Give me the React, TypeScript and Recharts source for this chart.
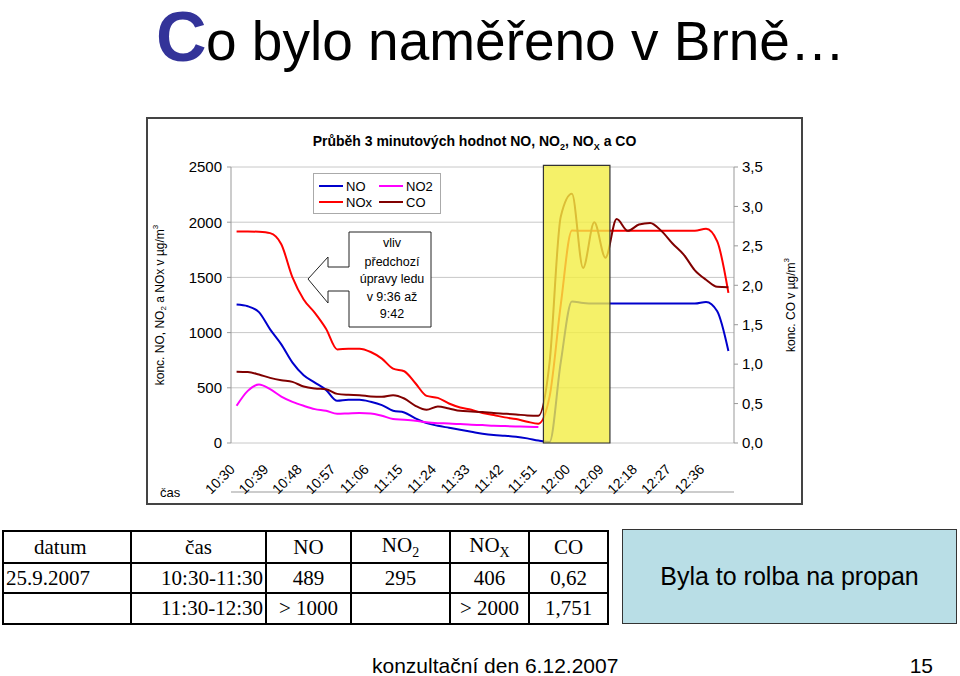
import React from 'react';
import { LineChart, Line, XAxis, YAxis, CartesianGrid, ReferenceArea, Legend, Label } from 'recharts';

const SANS = '"Liberation Sans", Arial, sans-serif';
const SERIF = '"Liberation Serif", "Times New Roman", serif';

const categories = [
  '10:30', '10:33', '10:36', '10:39', '10:42', '10:45', '10:48', '10:51', '10:54', '10:57',
  '11:00', '11:03', '11:06', '11:09', '11:12', '11:15', '11:18', '11:21', '11:24', '11:27',
  '11:30', '11:33', '11:36', '11:39', '11:42', '11:45', '11:48', '11:51', '11:54', '11:57',
  '12:00', '12:03', '12:06', '12:09', '12:12', '12:15', '12:18', '12:21', '12:24', '12:27',
  '12:30', '12:33', '12:36', '12:39', '12:42',
];

const tickLabels = [
  '10:30', '10:39', '10:48', '10:57', '11:06', '11:15', '11:24', '11:33',
  '11:42', '11:51', '12:00', '12:09', '12:18', '12:27', '12:36',
];

const noValues = [
  1254, 1239, 1185, 1029, 893, 728, 614, 547, 481, 382,
  391, 391, 373, 343, 292, 277, 223, 180, 156, 138,
  120, 102, 84, 72, 66, 57, 42, 22, 8, 730,
  1282, 1268, 1263, 1263, 1263, 1263, 1263, 1263, 1263, 1263,
  1263, 1263, 1278, 1194, 833,
];

const no2Values: (number | null)[] = [
  337, 472, 529, 487, 421, 373, 337, 307, 292, 265,
  268, 271, 268, 247, 217, 211, 202, 187, 180, 177,
  171, 165, 162, 156, 153, 150, 147, 144, null, null,
  null, null, null, null, null, null, null, null, null, null,
  null, null, null, null, null,
];

const noxValues = [
  1916, 1916, 1913, 1901, 1800, 1500, 1300, 1179, 1035, 848,
  854, 854, 824, 764, 674, 650, 541, 427, 409, 358,
  322, 301, 271, 253, 232, 217, 193, 175, 420, 1251,
  1925, 1922, 1922, 1922, 1922, 1922, 1922, 1922, 1922, 1922,
  1922, 1922, 1940, 1826, 1360,
];

const coValues = [
  0.905, 0.901, 0.868, 0.826, 0.796, 0.775, 0.716, 0.691, 0.682, 0.623,
  0.611, 0.606, 0.59, 0.585, 0.606, 0.564, 0.472, 0.421, 0.463, 0.438,
  0.408, 0.4, 0.392, 0.379, 0.371, 0.362, 0.35, 0.345, 1.02, 2.87,
  3.16, 2.22, 2.8, 2.35, 2.84, 2.69, 2.77, 2.79, 2.69, 2.53,
  2.39, 2.19, 2.07, 1.98, 1.975,
];

const leftTicks = [0, 500, 1000, 1500, 2000, 2500];
const rightTicks = [0, 0.5, 1, 1.5, 2, 2.5, 3, 3.5];

const series = [
  { key: 'NO', name: 'NO', color: '#0000CC', axis: 'left' },
  { key: 'NO2', name: 'NO2', color: '#FF00FF', axis: 'left' },
  { key: 'NOx', name: 'NOx', color: '#FF0000', axis: 'left' },
  { key: 'CO', name: 'CO', color: '#800000', axis: 'co' },
];

const highlightFrom = 27.45;
const highlightTo = 33.4;

const TimeTick = (props: any) => {
  const { x, y, payload } = props;
  return (
    <g transform={`translate(${x - 8},${y + 20})`}>
      <text textAnchor="end" transform="rotate(-45)" dy="0.72em" fontSize={14} fontFamily={SANS} fill="#000">
        {categories[payload.value]}
      </text>
    </g>
  );
};

const LeftTitle = (props: any) => {
  const vb = props.viewBox || { x: 33, y: 48, width: 50, height: 276 };
  const cx = vb.x - 21;
  const cy = vb.y + vb.height / 2;
  return (
    <text transform={`translate(${cx},${cy}) rotate(-90)`} textAnchor="middle" dominantBaseline="central" fontSize={12} fontFamily={SANS} fill="#000">
      konc. NO, NO<tspan fontSize={8} dy={3}>2</tspan><tspan dy={-3}> a NOx v µg/m</tspan><tspan fontSize={8} dy={-5}>3</tspan>
    </text>
  );
};

const RightTitle = (props: any) => {
  const vb = props.viewBox || { x: 586, y: 48, width: 50, height: 276 };
  const cx = vb.x + 57;
  const cy = vb.y + vb.height / 2;
  return (
    <text transform={`translate(${cx},${cy}) rotate(-90)`} textAnchor="middle" dominantBaseline="central" fontSize={12} fontFamily={SANS} fill="#000">
      konc. CO v µg/m<tspan fontSize={8} dy={-5}>3</tspan>
    </text>
  );
};

const LegendBox = () => (
  <div style={{ boxSizing: 'border-box', width: 128, height: 41, border: '1px solid #aaa', background: '#fff', display: 'grid', gridTemplateColumns: '60px 60px', padding: '4px 5px', fontFamily: SANS, fontSize: 13, color: '#000' }}>
    {series.map((s) => (
      <div key={s.key} style={{ display: 'flex', alignItems: 'center', height: 16 }}>
        <span style={{ display: 'inline-block', width: 24, height: 2, background: s.color, marginRight: 3 }} />
        <span>{s.name}</span>
      </div>
    ))}
  </div>
);

const cell = { border: '2px solid #000', textAlign: 'center' as const };

export default function App() {
  const data = categories.map((t, i) => ({
    i,
    time: t,
    NO: noValues[i],
    NO2: no2Values[i],
    NOx: noxValues[i],
    CO: coValues[i],
  }));
  const boundaries = [-0.5, ...categories.map((_, i) => i + 0.5)];
  const labelTicks = tickLabels.map((t) => categories.indexOf(t));

  return (
    <div style={{ position: 'absolute', left: 0, top: 0, width: 960, height: 676, background: '#fff', overflow: 'hidden', fontFamily: SANS }}>
      <svg width={960} height={676} style={{ position: 'absolute', left: 0, top: 0 }}>
        <text x={156} y={61} fontSize={70} fontWeight="bold" fill="#333399" fontFamily={SANS}>C</text>
        <text x={206} y={60} fontSize={55} fill="#000" fontFamily={SANS}>o bylo naměřeno v Brně…</text>
        <text x={372} y={673} fontSize={21} fill="#000" fontFamily={SANS}>konzultační den 6.12.2007</text>
        <text x={933} y={673} fontSize={21} fill="#000" fontFamily={SANS} textAnchor="end">15</text>
      </svg>

      <div style={{ position: 'absolute', left: 146, top: 117, width: 653, height: 384, border: '2px solid #444', background: '#fff' }}>
        <div style={{ position: 'absolute', left: 0, top: 14, width: 653, textAlign: 'center', fontSize: 14, fontWeight: 'bold', fontFamily: SANS, color: '#000' }}>
          Průběh 3 minutových hodnot NO, NO<sub style={{ fontSize: 9 }}>2</sub>, NO<sub style={{ fontSize: 9 }}>X</sub> a CO
        </div>
        <div style={{ position: 'absolute', left: 12, top: 366, fontSize: 13, fontFamily: SANS, color: '#000' }}>čas</div>
        <div style={{ position: 'absolute', left: 0, top: 0 }}>
          <LineChart width={653} height={384} data={data} margin={{ top: 48, right: 17, left: 33, bottom: 10 }}>
            <CartesianGrid xAxisId="ticks" yAxisId="left" vertical={false} stroke="#c8c8c8" />
            <XAxis
              xAxisId="ticks"
              dataKey="i"
              type="number"
              domain={[-0.5, categories.length - 0.5]}
              ticks={boundaries}
              interval={0}
              tick={false}
              tickSize={4}
              height={1}
              stroke="#999"
              allowDataOverflow
            />
            <XAxis
              xAxisId="labels"
              dataKey="i"
              type="number"
              domain={[-0.5, categories.length - 0.5]}
              ticks={labelTicks}
              interval={0}
              tick={<TimeTick />}
              tickLine={false}
              axisLine={false}
              tickSize={0}
              tickMargin={0}
              height={49}
              allowDataOverflow
            />
            <YAxis
              yAxisId="left"
              domain={[0, 2500]}
              ticks={leftTicks}
              interval={0}
              width={50}
              tickSize={4}
              tickMargin={5}
              stroke="#999"
              tick={{ fill: '#000', fontSize: 15, fontFamily: SANS }}
              label={<Label content={LeftTitle} />}
            />
            <YAxis
              yAxisId="co"
              orientation="right"
              domain={[0, 3.5]}
              ticks={rightTicks}
              interval={0}
              width={50}
              tickSize={4}
              tickMargin={4}
              stroke="#999"
              tickFormatter={(v: number) => v.toFixed(1).replace('.', ',')}
              tick={{ fill: '#000', fontSize: 15, fontFamily: SANS }}
              label={<Label content={RightTitle} />}
            />
            {series.map((s) => (
              <Line
                key={s.key}
                xAxisId="ticks"
                yAxisId={s.axis}
                dataKey={s.key}
                name={s.name}
                type="monotone"
                stroke={s.color}
                strokeWidth={2}
                dot={false}
                activeDot={false}
                isAnimationActive={false}
              />
            ))}
            <ReferenceArea
              xAxisId="ticks"
              yAxisId="left"
              x1={highlightFrom}
              x2={highlightTo}
              y1={0}
              y2={2515}
              ifOverflow="visible"
              fill="#f2ee44"
              fillOpacity={0.8}
              stroke="#333"
              strokeWidth={1.2}
              zIndex={450}
            />
            <Legend
              layout="horizontal"
              verticalAlign="middle"
              align="center"
              wrapperStyle={{ left: 165, top: 54, width: 128, height: 41 }}
              content={<LegendBox />}
            />
          </LineChart>
        </div>
      </div>

      <svg width={960} height={676} style={{ position: 'absolute', left: 0, top: 0, pointerEvents: 'none' }}>
        <path d="M349,232 L431,232 L431,327 L349,327 L349,291 L328,291 L328,303 L308,279 L328,257 L328,267 L349,267 Z" fill="#fff" stroke="#222" strokeWidth={1} />
        <g fontSize={12.5} fontFamily={SANS} fill="#000" textAnchor="middle">
          <text x={392} y={247}>vliv</text>
          <text x={392} y={266}>předchozí</text>
          <text x={392} y={283}>úpravy ledu</text>
          <text x={392} y={301}>v 9:36 až</text>
          <text x={392} y={318}>9:42</text>
        </g>
      </svg>

      <table style={{ position: 'absolute', left: 2, top: 530, borderCollapse: 'collapse', fontFamily: SERIF, fontSize: 21, color: '#000', tableLayout: 'fixed' }}>
        <colgroup>
          <col style={{ width: 128 }} />
          <col style={{ width: 135 }} />
          <col style={{ width: 85 }} />
          <col style={{ width: 99 }} />
          <col style={{ width: 79 }} />
          <col style={{ width: 79 }} />
        </colgroup>
        <tbody>
          <tr style={{ height: 31 }}>
            <td style={{ ...cell, textAlign: 'left', paddingLeft: 30 }}>datum</td>
            <td style={cell}>čas</td>
            <td style={cell}>NO</td>
            <td style={cell}>NO<sub style={{ fontSize: 14 }}>2</sub></td>
            <td style={cell}>NO<sub style={{ fontSize: 14 }}>X</sub></td>
            <td style={cell}>CO</td>
          </tr>
          <tr style={{ height: 30 }}>
            <td style={{ ...cell, textAlign: 'left', paddingLeft: 2 }}>25.9.2007</td>
            <td style={{ ...cell, textAlign: 'right', paddingRight: 2 }}>10:30-11:30</td>
            <td style={cell}>489</td>
            <td style={cell}>295</td>
            <td style={cell}>406</td>
            <td style={cell}>0,62</td>
          </tr>
          <tr style={{ height: 31 }}>
            <td style={cell}></td>
            <td style={{ ...cell, textAlign: 'right', paddingRight: 2 }}>11:30-12:30</td>
            <td style={cell}>&gt; 1000</td>
            <td style={cell}></td>
            <td style={cell}>&gt; 2000</td>
            <td style={cell}>1,751</td>
          </tr>
        </tbody>
      </table>

      <div style={{ position: 'absolute', left: 622, top: 529, width: 333, height: 93, background: '#B9DEE6', border: '1.5px solid #333', display: 'flex', alignItems: 'center', justifyContent: 'center', fontFamily: SANS, fontSize: 25, color: '#000' }}>
        Byla to rolba na propan
      </div>
    </div>
  );
}
